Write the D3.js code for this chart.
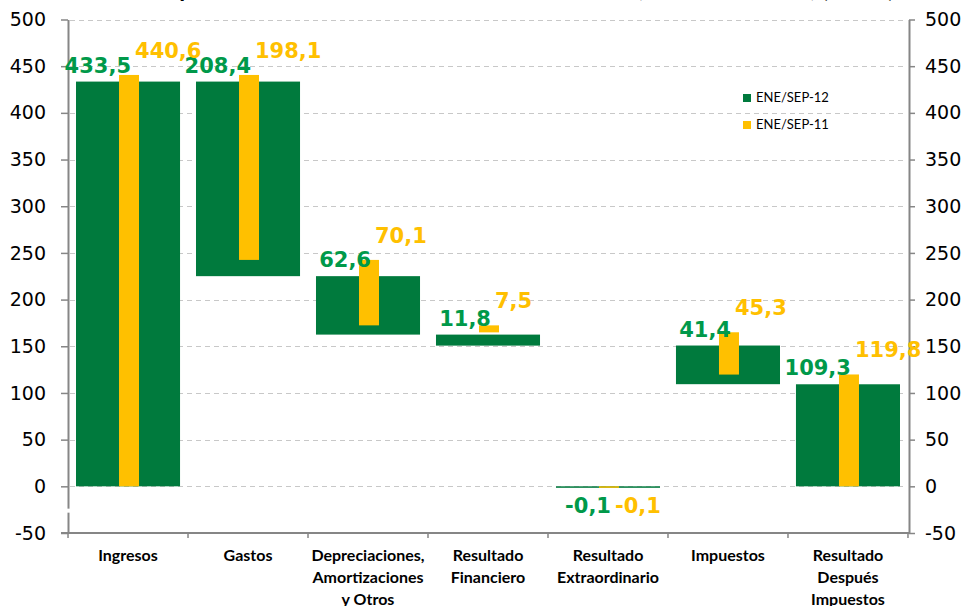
<!DOCTYPE html>
<html>
<head>
<meta charset="utf-8">
<script src="https://cdn.jsdelivr.net/npm/d3@7"></script>
<style>
  body { margin: 0; background: #fff; }
  svg { display: block; }
</style>
</head>
<body>
<div id="chart"></div>
<script>
// chart data
const categories = ["Ingresos", "Gastos", "Depreciaciones, Amortizaciones y Otros", "Resultado Financiero",
                    "Resultado Extraordinario", "Impuestos", "Resultado Después Impuestos"];
const categoryLines = [["Ingresos"], ["Gastos"], ["Depreciaciones,", "Amortizaciones", "y Otros"],
                       ["Resultado", "Financiero"], ["Resultado", "Extraordinario"], ["Impuestos"],
                       ["Resultado", "Después", "Impuestos"]];
const kinds = ["total", "step", "step", "step", "step", "step", "total"];
const values12 = [433.5, 208.4, 62.6, 11.8, -0.1, 41.4, 109.3];
const values11 = [440.6, 198.1, 70.1, 7.5, -0.1, 45.3, 119.8];
const seriesNames = ["ENE/SEP-12", "ENE/SEP-11"];
const yTicks = [-50, 0, 50, 100, 150, 200, 250, 300, 350, 400, 450, 500];

const width = 963, height = 606;
const green = "#007A3D", greenText = "#00994A", yellow = "#FFC000";

const svg = d3.select("#chart")
  .append("svg")
  .attr("width", width)
  .attr("height", height);

// scales
const x = d3.scaleBand()
  .domain(categories)
  .range([68, 908])
  .paddingInner(0.133)
  .paddingOuter(0.0667);

const y = d3.scaleLinear()
  .domain([-50, 500])
  .range([533, 19.5]);

// waterfall: running level, negative steps sit under zero like Excel stacks
function waterfall(vals) {
  let level = 0;
  return vals.map((v, i) => {
    let lo, hi;
    if (kinds[i] === "total") { lo = 0; hi = v; level = v; }
    else if (v < 0) { lo = v; hi = 0; level -= v; }
    else { hi = level; lo = level - v; level = lo; }
    return { cat: categories[i], v: v, lo: lo, hi: hi };
  });
}
const bars12 = waterfall(values12);
const bars11 = waterfall(values11);

// title (clipped at the top edge, as in the source)
svg.append("text")
  .attr("x", 512)
  .attr("y", -3)
  .attr("text-anchor", "middle")
  .style("font-family", "Lato, sans-serif")
  .style("font-weight", "bold")
  .style("font-size", "24px")
  .text("Comparativo Estado de Resultados Consolidado, ENE/SEP 2012, (MM$)");

// gridlines
svg.append("g")
  .selectAll("line")
  .data(yTicks.filter(d => d >= 0))
  .enter()
  .append("line")
  .attr("x1", 70).attr("x2", 906)
  .attr("y1", d => Math.round(y(d)) + 0.5)
  .attr("y2", d => Math.round(y(d)) + 0.5)
  .attr("stroke", "#C8C8C8")
  .attr("stroke-dasharray", "5,4");

// y axes
function styleAxis(g) {
  g.select(".domain").attr("stroke", "#868686").attr("stroke-width", 2);
  g.selectAll(".tick line").attr("stroke", "#868686").attr("stroke-width", 1.5);
  g.selectAll(".tick text")
    .attr("fill", "#000")
    .style("font-family", "DejaVu Sans, sans-serif")
    .style("font-size", "19px");
}

svg.append("g")
  .attr("transform", "translate(68,0)")
  .call(d3.axisLeft(y).tickValues(yTicks).tickFormat(d => String(d))
    .tickSize(7).tickSizeOuter(0).tickPadding(15))
  .call(styleAxis);

svg.append("g")
  .attr("transform", "translate(909,0)")
  .call(d3.axisRight(y).tickValues(yTicks).tickFormat(d => String(d))
    .tickSize(6).tickSizeOuter(0).tickPadding(10))
  .call(styleAxis);

// small break in the left axis
svg.append("rect")
  .attr("x", 66).attr("y", y(-25) - 1)
  .attr("width", 4).attr("height", 4)
  .attr("fill", "#fff");

// category axis
const xAxis = svg.append("g");
xAxis.append("line")
  .attr("x1", 61).attr("x2", 909)
  .attr("y1", y(-50)).attr("y2", y(-50))
  .attr("stroke", "#868686").attr("stroke-width", 2);
xAxis.selectAll("line.sep")
  .data(d3.range(categories.length + 1))
  .enter()
  .append("line")
  .attr("class", "sep")
  .attr("x1", i => x(categories[0]) - x.step() * x.paddingInner() / 2 + i * x.step())
  .attr("x2", i => x(categories[0]) - x.step() * x.paddingInner() / 2 + i * x.step())
  .attr("y1", y(-50)).attr("y2", y(-50) + 5)
  .attr("stroke", "#868686").attr("stroke-width", 1.5);

const catText = xAxis.selectAll("text.cat")
  .data(categories)
  .enter()
  .append("text")
  .attr("class", "cat")
  .attr("x", d => x(d) + x.bandwidth() / 2)
  .attr("y", 561)
  .attr("text-anchor", "middle")
  .style("font-family", "Lato, sans-serif")
  .style("font-weight", "bold")
  .style("font-size", "16px");
catText.selectAll("tspan")
  .data((d, i) => categoryLines[i])
  .enter()
  .append("tspan")
  .attr("x", function () { return this.parentNode.getAttribute("x"); })
  .attr("dy", (d, i) => i === 0 ? 0 : 22)
  .text(d => d);

// bars
const minH = 1.5;
svg.append("g")
  .selectAll("rect")
  .data(bars12)
  .enter()
  .append("rect")
  .attr("x", d => x(d.cat))
  .attr("width", x.bandwidth())
  .attr("y", d => y(d.hi))
  .attr("height", d => Math.max(minH, y(d.lo) - y(d.hi)))
  .attr("fill", green);

svg.append("g")
  .selectAll("rect")
  .data(bars11)
  .enter()
  .append("rect")
  .attr("x", d => x(d.cat) + x.bandwidth() / 2 - 9)
  .attr("width", 20)
  .attr("y", d => y(d.hi))
  .attr("height", d => Math.max(minH, y(d.lo) - y(d.hi)))
  .attr("fill", yellow);

// data labels
const fmt = v => String(v).replace(".", ",");
const labelStyle = sel => sel
  .style("font-family", "DejaVu Sans, sans-serif")
  .style("font-weight", "bold")
  .style("font-size", "21px");

svg.append("g")
  .selectAll("text")
  .data(bars12)
  .enter()
  .append("text")
  .attr("x", d => x(d.cat) + x.bandwidth() / 2 + 3)
  .attr("y", d => d.v < 0 ? y(0) + 27 : y(d.hi) - 9)
  .attr("text-anchor", "end")
  .attr("fill", greenText)
  .call(labelStyle)
  .text(d => fmt(d.v));

svg.append("g")
  .selectAll("text")
  .data(bars11)
  .enter()
  .append("text")
  .attr("x", d => x(d.cat) + x.bandwidth() / 2 + 7)
  .attr("y", d => d.v < 0 ? y(0) + 27 : y(d.hi) - 17)
  .attr("text-anchor", "start")
  .attr("fill", yellow)
  .call(labelStyle)
  .text(d => fmt(d.v));

// legend
const legend = svg.append("g")
  .attr("transform", "translate(743,94)")
  .selectAll("g")
  .data(seriesNames)
  .enter()
  .append("g")
  .attr("transform", (d, i) => `translate(0,${i * 27})`);
legend.append("rect")
  .attr("width", 8).attr("height", 8)
  .attr("fill", (d, i) => i === 0 ? green : yellow);
legend.append("text")
  .attr("x", 13).attr("y", 8)
  .style("font-family", "Lato, sans-serif")
  .style("font-size", "13px")
  .text(d => d);
</script>
</body>
</html>
